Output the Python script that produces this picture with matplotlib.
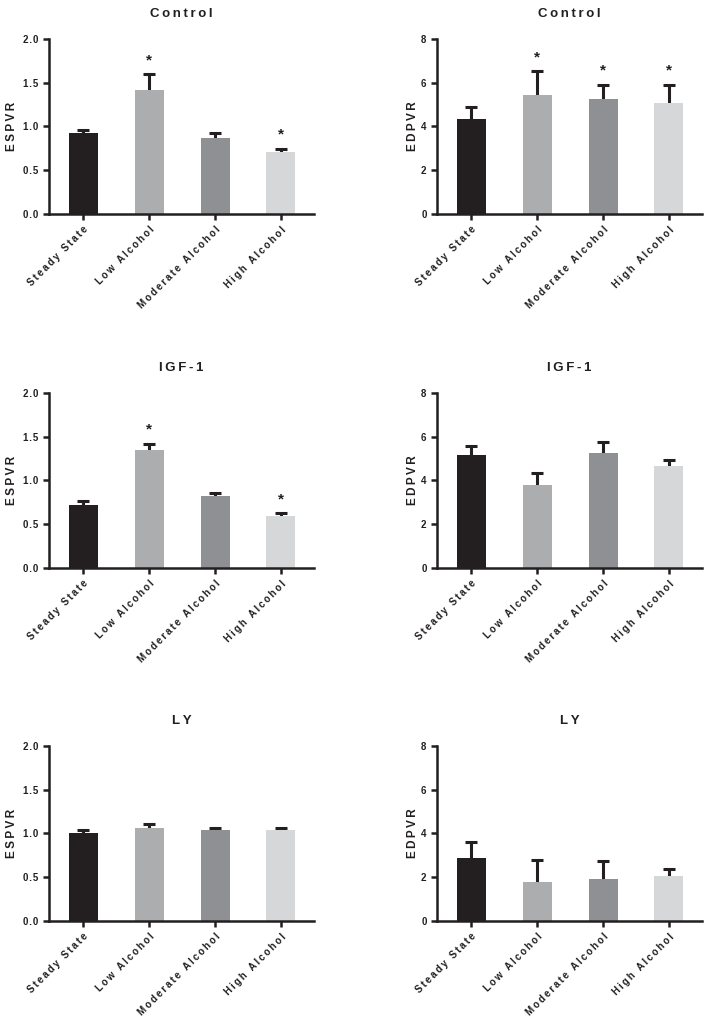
import matplotlib.pyplot as plt

plt.rcParams['font.family'] = ['Liberation Sans', 'DejaVu Sans']
plt.rcParams['font.weight'] = 'bold'

grupos = ["Steady State", "Low Alcohol", "Moderate Alcohol", "High Alcohol"]
colores = ["#231f20", "#acadaf", "#8f9093", "#d6d7d8"]

# ESPVR (media, error superior)
espvr_control = [0.93, 1.42, 0.87, 0.71]
espvr_control_err = [0.025, 0.18, 0.05, 0.035]
espvr_igf = [0.72, 1.35, 0.82, 0.595]
espvr_igf_err = [0.045, 0.07, 0.04, 0.03]
espvr_ly = [1.005, 1.066, 1.04, 1.04]
espvr_ly_err = [0.03, 0.045, 0.022, 0.025]

# EDPVR
edpvr_control = [4.33, 5.44, 5.26, 5.06]
edpvr_control_err = [0.55, 1.08, 0.64, 0.84]
edpvr_igf = [5.17, 3.77, 5.26, 4.67]
edpvr_igf_err = [0.39, 0.59, 0.51, 0.28]
edpvr_ly = [2.88, 1.76, 1.94, 2.06]
edpvr_ly_err = [0.75, 1.02, 0.81, 0.31]

# significancia (*)
sig_espvr_control = [False, True, False, True]
sig_edpvr_control = [False, True, True, True]
sig_espvr_igf = [False, True, False, True]
sig_ninguno = [False, False, False, False]

paneles = [
    ("Control", "ESPVR", espvr_control, espvr_control_err, sig_espvr_control, 2.0, [0, 0.5, 1.0, 1.5, 2.0]),
    ("Control", "EDPVR", edpvr_control, edpvr_control_err, sig_edpvr_control, 8, [0, 2, 4, 6, 8]),
    ("IGF-1", "ESPVR", espvr_igf, espvr_igf_err, sig_espvr_igf, 2.0, [0, 0.5, 1.0, 1.5, 2.0]),
    ("IGF-1", "EDPVR", edpvr_igf, edpvr_igf_err, sig_ninguno, 8, [0, 2, 4, 6, 8]),
    ("LY", "ESPVR", espvr_ly, espvr_ly_err, sig_ninguno, 2.0, [0, 0.5, 1.0, 1.5, 2.0]),
    ("LY", "EDPVR", edpvr_ly, edpvr_ly_err, sig_ninguno, 8, [0, 2, 4, 6, 8]),
]


def espaciar(texto, sep="\u2009"):
    # imita el espaciado amplio de letras del original
    return sep.join(texto)


fig = plt.figure(figsize=(7.12, 10.24), dpi=100)
lefts = [0.0688, 0.6138]
bottoms = [0.791, 0.4453, 0.1006]

for i, (titulo, ylabel, medias, errs, sig, ymax, yticks) in enumerate(paneles):
    ax = fig.add_axes([lefts[i % 2], bottoms[i // 2], 0.372, 0.171])
    x = range(len(grupos))
    # barra de error simétrica detrás de la barra: sólo se ve la parte superior
    ax.errorbar(x, medias, yerr=errs, fmt='none', ecolor='#231f20',
                elinewidth=2.2, capsize=4.5, capthick=2.2, zorder=1)
    ax.bar(x, medias, width=0.44, color=colores, zorder=2)
    for xi, m, e, s in zip(x, medias, errs, sig):
        if s:
            ax.annotate("*", (xi, m + e), xytext=(0, 5), textcoords='offset points',
                        ha='center', va='bottom', fontsize=11, fontweight='bold', color='#231f20')
    ax.set_xlim(-0.52, 3.5)
    ax.set_ylim(0, ymax)
    ax.set_yticks(yticks)
    if ymax == 2.0:
        ax.set_yticklabels([espaciar(f"{t:.1f}", "\u200a") for t in yticks])
    ax.set_xticks(list(x))
    ax.set_xticklabels([espaciar(g) for g in grupos], rotation=45, ha='right', rotation_mode='anchor')
    ax.tick_params(axis='both', labelsize=7, width=1.8, length=4, color='#231f20', labelcolor='#231f20')
    for lab in ax.get_xticklabels() + ax.get_yticklabels():
        lab.set_fontweight('bold')
    for lado in ['top', 'right']:
        ax.spines[lado].set_visible(False)
    for lado in ['left', 'bottom']:
        ax.spines[lado].set_linewidth(1.8)
        ax.spines[lado].set_color('#231f20')
    ax.set_ylabel(espaciar(ylabel), fontsize=8.5, fontweight='bold', color='#231f20')
    ax.yaxis.set_label_coords(-0.117 if i % 2 == 0 else -0.068, 0.5)
    ax.set_title(espaciar(titulo), fontsize=9.5, fontweight='bold', color='#231f20', pad=16)

plt.savefig("out.png", dpi=100)
